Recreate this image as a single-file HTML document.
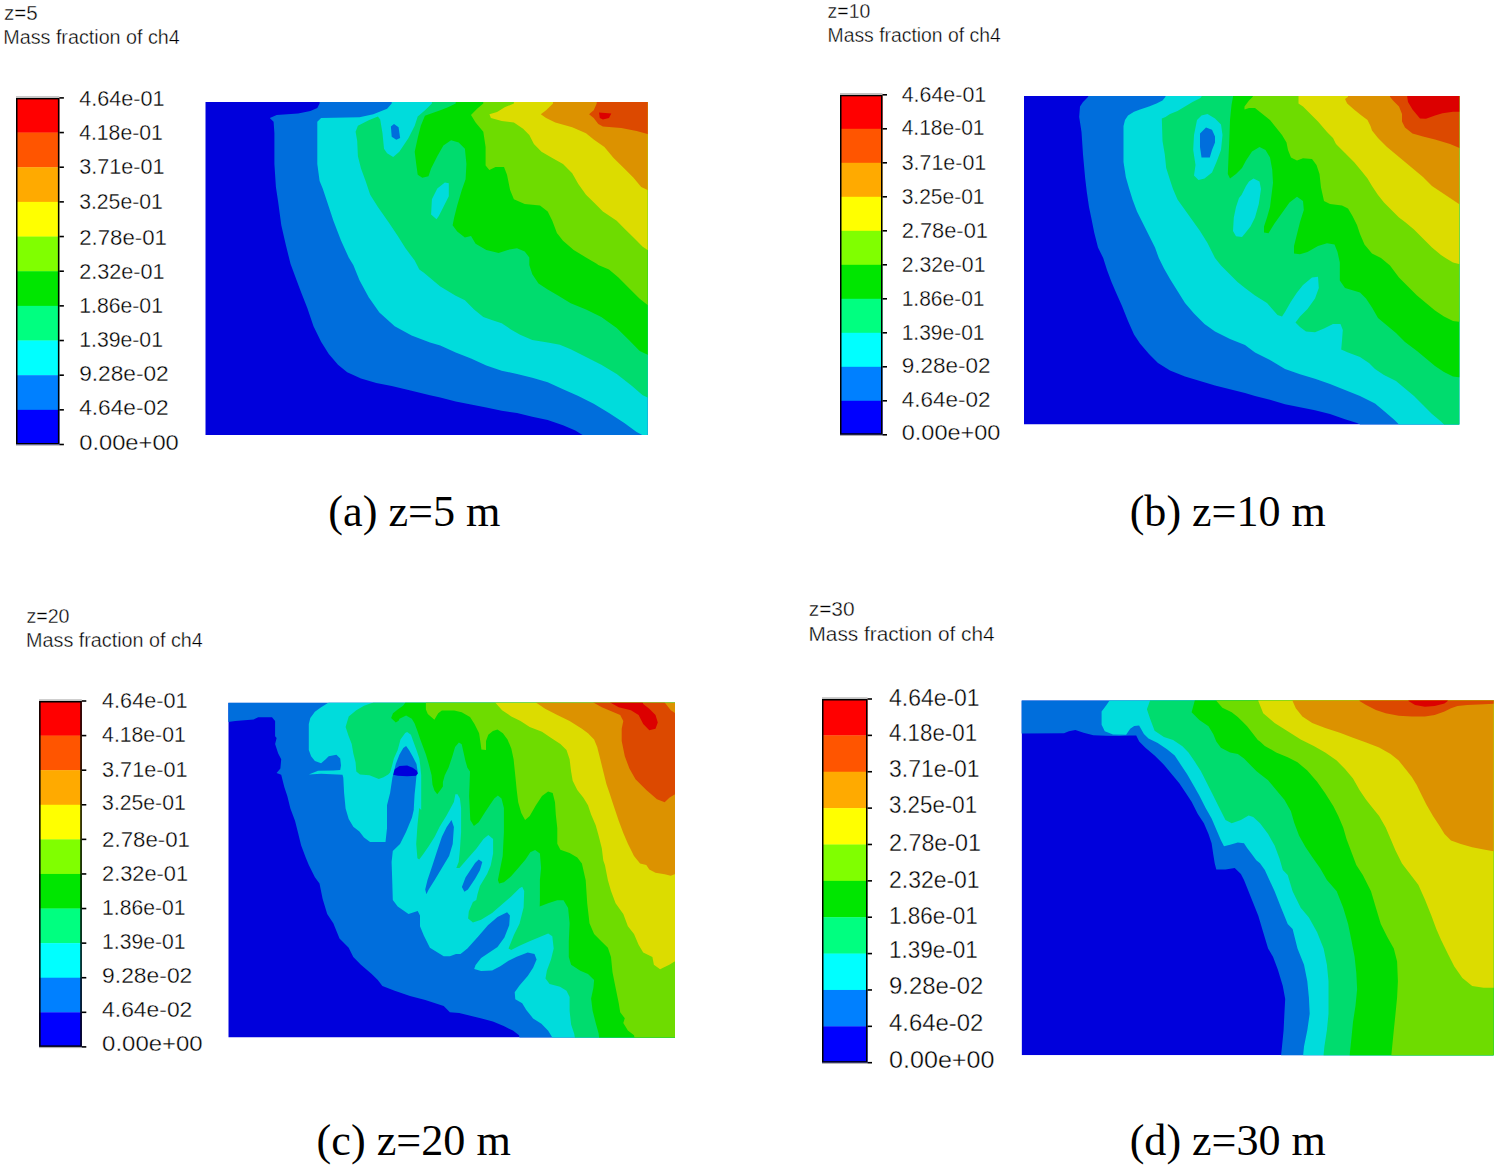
<!DOCTYPE html>
<html><head><meta charset="utf-8"><style>
html,body{margin:0;padding:0;background:#fff;width:1500px;height:1168px;overflow:hidden}
svg{display:block}
</style></head><body>
<svg width="1500" height="1168" viewBox="0 0 1500 1168">
<text x="4.10" y="20.00" font-family='"Liberation Sans", sans-serif' font-size="19.5" textLength="33.70" lengthAdjust="spacingAndGlyphs" fill="#000" stroke="#fff" stroke-width="0.35">z=5</text>
<text x="3.30" y="44.00" font-family='"Liberation Sans", sans-serif' font-size="20" textLength="176.47" lengthAdjust="spacingAndGlyphs" fill="#000" stroke="#fff" stroke-width="0.35">Mass fraction of ch4</text>
<rect x="16" y="97.90" width="43.4" height="34.96" fill="#ff0000"/>
<rect x="16" y="132.56" width="43.4" height="34.96" fill="#ff5500"/>
<rect x="16" y="167.22" width="43.4" height="34.96" fill="#ffaa00"/>
<rect x="16" y="201.88" width="43.4" height="34.96" fill="#ffff00"/>
<rect x="16" y="236.54" width="43.4" height="34.96" fill="#80ff00"/>
<rect x="16" y="271.20" width="43.4" height="34.96" fill="#00e600"/>
<rect x="16" y="305.86" width="43.4" height="34.96" fill="#00ff80"/>
<rect x="16" y="340.52" width="43.4" height="34.96" fill="#00ffff"/>
<rect x="16" y="375.18" width="43.4" height="34.96" fill="#0080ff"/>
<rect x="16" y="409.84" width="43.4" height="34.96" fill="#0000ff"/>
<rect x="16.75" y="98.65" width="41.9" height="345.1" fill="none" stroke="#000" stroke-width="1.5"/>
<rect x="16" y="96.10000000000001" width="43.4" height="1.8" fill="#c4c4c4"/>
<rect x="16" y="444.5" width="43.4" height="1.2" fill="#b0b0b0"/>
<line x1="59.4" y1="97.90" x2="63.9" y2="97.90" stroke="#000" stroke-width="1.6"/>
<line x1="59.4" y1="132.56" x2="63.9" y2="132.56" stroke="#000" stroke-width="1.6"/>
<line x1="59.4" y1="167.22" x2="63.9" y2="167.22" stroke="#000" stroke-width="1.6"/>
<line x1="59.4" y1="201.88" x2="63.9" y2="201.88" stroke="#000" stroke-width="1.6"/>
<line x1="59.4" y1="236.54" x2="63.9" y2="236.54" stroke="#000" stroke-width="1.6"/>
<line x1="59.4" y1="271.20" x2="63.9" y2="271.20" stroke="#000" stroke-width="1.6"/>
<line x1="59.4" y1="305.86" x2="63.9" y2="305.86" stroke="#000" stroke-width="1.6"/>
<line x1="59.4" y1="340.52" x2="63.9" y2="340.52" stroke="#000" stroke-width="1.6"/>
<line x1="59.4" y1="375.18" x2="63.9" y2="375.18" stroke="#000" stroke-width="1.6"/>
<line x1="59.4" y1="409.84" x2="63.9" y2="409.84" stroke="#000" stroke-width="1.6"/>
<line x1="59.4" y1="444.50" x2="63.9" y2="444.50" stroke="#000" stroke-width="1.6"/>
<text x="79.20" y="106.00" font-family='"Liberation Sans", sans-serif' font-size="22.8" textLength="85.25" lengthAdjust="spacingAndGlyphs" fill="#000" stroke="#fff" stroke-width="0.35">4.64e-01</text>
<text x="79.20" y="140.20" font-family='"Liberation Sans", sans-serif' font-size="22.8" textLength="83.56" lengthAdjust="spacingAndGlyphs" fill="#000" stroke="#fff" stroke-width="0.35">4.18e-01</text>
<text x="79.20" y="174.30" font-family='"Liberation Sans", sans-serif' font-size="22.8" textLength="85.25" lengthAdjust="spacingAndGlyphs" fill="#000" stroke="#fff" stroke-width="0.35">3.71e-01</text>
<text x="79.20" y="208.50" font-family='"Liberation Sans", sans-serif' font-size="22.8" textLength="83.56" lengthAdjust="spacingAndGlyphs" fill="#000" stroke="#fff" stroke-width="0.35">3.25e-01</text>
<text x="79.20" y="245.20" font-family='"Liberation Sans", sans-serif' font-size="22.8" textLength="87.75" lengthAdjust="spacingAndGlyphs" fill="#000" stroke="#fff" stroke-width="0.35">2.78e-01</text>
<text x="79.20" y="278.70" font-family='"Liberation Sans", sans-serif' font-size="22.8" textLength="85.35" lengthAdjust="spacingAndGlyphs" fill="#000" stroke="#fff" stroke-width="0.35">2.32e-01</text>
<text x="79.20" y="313.10" font-family='"Liberation Sans", sans-serif' font-size="22.8" textLength="83.76" lengthAdjust="spacingAndGlyphs" fill="#000" stroke="#fff" stroke-width="0.35">1.86e-01</text>
<text x="79.20" y="346.50" font-family='"Liberation Sans", sans-serif' font-size="22.8" textLength="83.76" lengthAdjust="spacingAndGlyphs" fill="#000" stroke="#fff" stroke-width="0.35">1.39e-01</text>
<text x="79.20" y="380.50" font-family='"Liberation Sans", sans-serif' font-size="22.8" textLength="89.55" lengthAdjust="spacingAndGlyphs" fill="#000" stroke="#fff" stroke-width="0.35">9.28e-02</text>
<text x="79.20" y="415.30" font-family='"Liberation Sans", sans-serif' font-size="22.8" textLength="89.55" lengthAdjust="spacingAndGlyphs" fill="#000" stroke="#fff" stroke-width="0.35">4.64e-02</text>
<text x="79.20" y="450.00" font-family='"Liberation Sans", sans-serif' font-size="22.8" textLength="99.57" lengthAdjust="spacingAndGlyphs" fill="#000" stroke="#fff" stroke-width="0.35">0.00e+00</text>
<text x="328.30" y="526.00" font-family='"Liberation Serif", serif' font-size="43.5" textLength="172.22" lengthAdjust="spacingAndGlyphs" fill="#000">(a) z=5 m</text>
<svg x="205.3" y="102" width="442.40000000000003" height="333" viewBox="0 0 442.40000000000003 333" preserveAspectRatio="none" overflow="hidden">
<rect x="0" y="0" width="442.40000000000003" height="333" fill="#0000dc"/>
<path d="M114.3,-3.9 L114.3,1.4 L112.0,6.0 L105.1,9.1 L92.8,11.4 L71.4,12.9 L64.5,16.0 L68.3,19.8 L69.1,31.3 L69.1,62.0 L70.6,85.0 L72.9,100.3 L76.0,123.3 L80.6,143.3 L85.2,161.7 L91.3,178.3 L95.9,190.6 L102.0,205.9 L108.2,224.3 L115.8,239.7 L123.5,251.9 L132.7,262.7 L141.9,270.3 L155.7,276.5 L171.0,281.1 L186.4,284.1 L206.3,288.7 L224.7,293.3 L235.0,295.6 L250.4,299.5 L265.7,302.5 L281.0,305.6 L296.4,308.7 L311.7,311.0 L327.0,314.8 L342.4,317.9 L357.7,323.2 L370.0,328.6 L377.6,333.2 L379.2,340.9 L379.2,341.0 L450.4,341.0 L450.4,-8.0 L114.3,-8.0Z" fill="#006edc"/>
<path d="M186.4,-3.9 L186.4,1.4 L181.8,6.8 L168.0,12.2 L154.2,15.2 L115.8,16.0 L112.0,19.8 L112.0,62.0 L114.3,78.9 L117.4,86.5 L122.0,100.3 L128.1,118.7 L135.8,138.7 L143.4,155.5 L148.0,163.0 L154.2,178.3 L163.4,195.2 L174.1,210.5 L189.4,224.3 L206.3,233.5 L224.7,240.4 L235.0,243.5 L250.4,250.4 L265.7,256.5 L281.0,263.4 L296.4,268.8 L311.7,271.9 L327.0,275.7 L342.4,280.3 L357.7,287.2 L373.0,294.1 L388.4,301.8 L403.7,311.0 L419.0,320.9 L431.3,330.1 L437.4,333.2 L438.2,340.9 L438.2,341.0 L450.4,341.0 L450.4,-8.0 L186.4,-8.0Z" fill="#00dcdc"/>
<path d="M188.7,22.1 L193.3,25.2 L194.8,35.9 L191.0,37.8 L186.4,34.7 L185.6,24.4Z" fill="#006edc"/>
<path d="M226.6,-3.9 L226.6,1.4 L219.7,8.3 L212.4,14.5 L209.4,23.7 L203.2,35.9 L194.0,49.7 L187.9,55.1 L181.8,51.3 L178.7,46.7 L177.2,31.3 L174.9,17.5 L172.6,14.5 L163.4,18.3 L152.6,23.7 L150.3,29.8 L151.9,39.0 L152.6,54.3 L155.7,66.6 L160.3,78.9 L164.9,92.7 L172.6,104.9 L183.3,120.3 L192.5,134.1 L200.2,146.3 L209.4,158.6 L214.0,167.6 L218.6,170.7 L235.0,184.5 L250.4,193.7 L259.6,198.3 L268.8,207.5 L278.0,215.1 L287.2,218.2 L296.4,221.3 L305.6,227.4 L314.8,232.8 L327.0,238.1 L342.4,240.4 L354.6,242.7 L365.4,247.3 L380.7,255.0 L396.0,262.7 L411.4,271.9 L426.7,284.1 L437.4,293.3 L442.3,295.6 L449.7,297.9 L450.4,297.9 L450.4,-8.0 L226.6,-8.0Z" fill="#00dc6e"/>
<path d="M231.2,117.2 L225.8,112.6 L226.6,97.3 L232.0,86.5 L239.6,80.4 L243.5,81.2 L243.5,94.2 L238.1,104.9 L233.5,114.1Z" fill="#00dcdc"/>
<path d="M250.4,-3.9 L250.4,1.4 L242.7,5.3 L235.0,8.3 L225.8,11.4 L219.6,13.7 L215.5,23.7 L212.4,35.9 L209.4,49.7 L210.9,62.0 L212.4,72.7 L217.0,75.8 L223.2,74.3 L225.8,66.6 L232.0,54.3 L238.1,43.6 L245.8,38.2 L253.4,40.5 L259.6,46.7 L261.1,62.0 L260.3,77.3 L256.5,88.1 L251.9,103.4 L248.8,115.7 L247.3,123.3 L251.9,129.5 L259.6,135.6 L265.7,134.1 L270.3,141.7 L281.0,147.9 L293.3,150.9 L302.5,147.9 L311.7,146.3 L319.4,149.4 L324.0,155.5 L324.0,163.0 L327.0,172.2 L333.2,181.4 L342.4,187.5 L353.1,193.7 L365.4,201.3 L380.7,207.5 L396.0,215.1 L411.4,225.9 L423.6,238.1 L434.4,248.9 L442.3,252.7 L449.7,255.0 L450.4,255.0 L450.4,-8.0 L250.4,-8.0Z" fill="#00dc00"/>
<path d="M278.0,-3.9 L278.0,1.4 L271.8,6.8 L265.7,12.9 L270.3,20.6 L278.0,29.8 L280.3,45.1 L280.3,63.5 L284.1,68.1 L290.2,65.1 L298.7,65.1 L301.7,72.7 L304.8,88.1 L308.6,97.3 L319.4,101.9 L334.7,103.4 L342.4,109.5 L347.0,118.7 L351.6,131.0 L357.7,138.7 L368.4,147.9 L380.7,155.5 L391.4,161.7 L393.0,163.0 L403.7,167.6 L412.9,175.3 L423.6,186.0 L434.4,196.7 L442.3,202.9 L449.7,204.4 L450.4,204.4 L450.4,-8.0 L278.0,-8.0Z" fill="#6edc00"/>
<path d="M308.6,-3.9 L308.6,1.4 L299.4,5.3 L291.8,9.9 L284.1,12.2 L285.6,16.0 L296.4,19.1 L308.6,20.6 L317.8,26.7 L324.0,32.9 L328.6,42.1 L336.2,49.7 L347.0,55.9 L357.7,62.0 L366.9,71.2 L373.0,81.9 L380.7,92.7 L388.4,100.3 L397.6,109.5 L411.4,118.7 L419.0,126.4 L428.2,135.6 L437.4,144.8 L442.3,147.9 L449.7,152.5 L450.4,152.5 L450.4,-8.0 L308.6,-8.0Z" fill="#dcdc00"/>
<path d="M347.7,-3.9 L347.7,1.4 L340.8,8.3 L335.5,12.2 L340.8,16.0 L350.0,20.6 L366.9,25.2 L380.7,31.3 L388.4,37.5 L399.1,45.1 L408.3,55.9 L419.0,66.6 L428.2,75.8 L435.9,85.0 L442.3,88.1 L449.7,91.1 L450.4,91.1 L450.4,-8.0 L347.7,-8.0Z" fill="#dc9200"/>
<path d="M391.4,-3.9 L391.4,1.4 L388.4,8.3 L383.8,12.2 L388.4,16.0 L393.0,22.1 L397.6,24.4 L416.0,26.0 L431.3,29.0 L442.3,32.1 L449.7,32.9 L450.4,32.9 L450.4,-8.0 L391.4,-8.0Z" fill="#dc4900"/>
<path d="M393.7,10.6 L406.0,11.4 L403.7,16.0 L397.6,17.5 L394.5,16.0Z" fill="#dc0000"/>
</svg>
<text x="827.60" y="18.30" font-family='"Liberation Sans", sans-serif' font-size="19.5" textLength="42.63" lengthAdjust="spacingAndGlyphs" fill="#000" stroke="#fff" stroke-width="0.35">z=10</text>
<text x="827.50" y="41.80" font-family='"Liberation Sans", sans-serif' font-size="20" textLength="173.27" lengthAdjust="spacingAndGlyphs" fill="#000" stroke="#fff" stroke-width="0.35">Mass fraction of ch4</text>
<rect x="840" y="94.80" width="42.5" height="34.30" fill="#ff0000"/>
<rect x="840" y="128.80" width="42.5" height="34.30" fill="#ff5500"/>
<rect x="840" y="162.80" width="42.5" height="34.30" fill="#ffaa00"/>
<rect x="840" y="196.80" width="42.5" height="34.30" fill="#ffff00"/>
<rect x="840" y="230.80" width="42.5" height="34.30" fill="#80ff00"/>
<rect x="840" y="264.80" width="42.5" height="34.30" fill="#00e600"/>
<rect x="840" y="298.80" width="42.5" height="34.30" fill="#00ff80"/>
<rect x="840" y="332.80" width="42.5" height="34.30" fill="#00ffff"/>
<rect x="840" y="366.80" width="42.5" height="34.30" fill="#0080ff"/>
<rect x="840" y="400.80" width="42.5" height="34.30" fill="#0000ff"/>
<rect x="840.75" y="95.55" width="41.0" height="338.5" fill="none" stroke="#000" stroke-width="1.5"/>
<rect x="840" y="93.0" width="42.5" height="1.8" fill="#c4c4c4"/>
<rect x="840" y="434.8" width="42.5" height="1.2" fill="#b0b0b0"/>
<line x1="882.5" y1="94.80" x2="887.0" y2="94.80" stroke="#000" stroke-width="1.6"/>
<line x1="882.5" y1="128.80" x2="887.0" y2="128.80" stroke="#000" stroke-width="1.6"/>
<line x1="882.5" y1="162.80" x2="887.0" y2="162.80" stroke="#000" stroke-width="1.6"/>
<line x1="882.5" y1="196.80" x2="887.0" y2="196.80" stroke="#000" stroke-width="1.6"/>
<line x1="882.5" y1="230.80" x2="887.0" y2="230.80" stroke="#000" stroke-width="1.6"/>
<line x1="882.5" y1="264.80" x2="887.0" y2="264.80" stroke="#000" stroke-width="1.6"/>
<line x1="882.5" y1="298.80" x2="887.0" y2="298.80" stroke="#000" stroke-width="1.6"/>
<line x1="882.5" y1="332.80" x2="887.0" y2="332.80" stroke="#000" stroke-width="1.6"/>
<line x1="882.5" y1="366.80" x2="887.0" y2="366.80" stroke="#000" stroke-width="1.6"/>
<line x1="882.5" y1="400.80" x2="887.0" y2="400.80" stroke="#000" stroke-width="1.6"/>
<line x1="882.5" y1="434.80" x2="887.0" y2="434.80" stroke="#000" stroke-width="1.6"/>
<text x="901.70" y="101.70" font-family='"Liberation Sans", sans-serif' font-size="21.6" textLength="84.55" lengthAdjust="spacingAndGlyphs" fill="#000" stroke="#fff" stroke-width="0.35">4.64e-01</text>
<text x="901.70" y="135.40" font-family='"Liberation Sans", sans-serif' font-size="21.6" textLength="82.86" lengthAdjust="spacingAndGlyphs" fill="#000" stroke="#fff" stroke-width="0.35">4.18e-01</text>
<text x="901.70" y="169.80" font-family='"Liberation Sans", sans-serif' font-size="21.6" textLength="84.55" lengthAdjust="spacingAndGlyphs" fill="#000" stroke="#fff" stroke-width="0.35">3.71e-01</text>
<text x="901.70" y="203.50" font-family='"Liberation Sans", sans-serif' font-size="21.6" textLength="82.86" lengthAdjust="spacingAndGlyphs" fill="#000" stroke="#fff" stroke-width="0.35">3.25e-01</text>
<text x="901.70" y="238.30" font-family='"Liberation Sans", sans-serif' font-size="21.6" textLength="86.25" lengthAdjust="spacingAndGlyphs" fill="#000" stroke="#fff" stroke-width="0.35">2.78e-01</text>
<text x="901.70" y="272.40" font-family='"Liberation Sans", sans-serif' font-size="21.6" textLength="83.76" lengthAdjust="spacingAndGlyphs" fill="#000" stroke="#fff" stroke-width="0.35">2.32e-01</text>
<text x="901.70" y="305.90" font-family='"Liberation Sans", sans-serif' font-size="21.6" textLength="82.86" lengthAdjust="spacingAndGlyphs" fill="#000" stroke="#fff" stroke-width="0.35">1.86e-01</text>
<text x="901.70" y="339.80" font-family='"Liberation Sans", sans-serif' font-size="21.6" textLength="82.86" lengthAdjust="spacingAndGlyphs" fill="#000" stroke="#fff" stroke-width="0.35">1.39e-01</text>
<text x="901.70" y="372.70" font-family='"Liberation Sans", sans-serif' font-size="21.6" textLength="88.75" lengthAdjust="spacingAndGlyphs" fill="#000" stroke="#fff" stroke-width="0.35">9.28e-02</text>
<text x="901.70" y="406.60" font-family='"Liberation Sans", sans-serif' font-size="21.6" textLength="88.75" lengthAdjust="spacingAndGlyphs" fill="#000" stroke="#fff" stroke-width="0.35">4.64e-02</text>
<text x="901.70" y="440.30" font-family='"Liberation Sans", sans-serif' font-size="21.6" textLength="98.77" lengthAdjust="spacingAndGlyphs" fill="#000" stroke="#fff" stroke-width="0.35">0.00e+00</text>
<text x="1129.70" y="525.80" font-family='"Liberation Serif", serif' font-size="43.5" textLength="196.08" lengthAdjust="spacingAndGlyphs" fill="#000">(b) z=10 m</text>
<svg x="1024" y="96" width="435.29999999999995" height="328.5" viewBox="0 0 435.29999999999995 328.5" preserveAspectRatio="none" overflow="hidden">
<rect x="0" y="0" width="435.29999999999995" height="328.5" fill="#0000dc"/>
<path d="M64.2,-3.0 L64.2,0.8 L62.0,3.0 L59.0,6.0 L56.0,10.5 L55.2,21.0 L57.5,36.0 L59.0,58.5 L61.2,82.5 L62.8,96.0 L65.0,111.0 L67.2,121.5 L70.2,136.5 L74.0,151.5 L79.2,162.0 L83.0,174.0 L87.5,186.0 L92.0,196.5 L98.0,210.0 L104.0,225.0 L110.0,238.5 L116.0,247.5 L125.0,258.0 L134.0,267.0 L146.0,274.5 L161.0,280.5 L176.0,285.0 L191.0,289.5 L206.0,293.2 L221.0,297.0 L231.0,300.0 L246.0,303.8 L261.0,308.2 L276.0,311.2 L291.0,314.2 L306.0,318.0 L321.0,323.2 L333.0,327.0 L336.0,328.5 L336.8,336.0 L336.8,336.5 L443.3,336.5 L443.3,-8.0 L64.2,-8.0Z" fill="#006edc"/>
<path d="M141.5,-3.0 L141.5,0.8 L138.5,4.5 L132.5,7.5 L125.0,10.5 L116.0,13.5 L110.0,15.8 L104.0,19.5 L101.0,24.0 L99.5,30.0 L99.5,66.0 L101.8,81.0 L104.8,91.5 L108.5,103.5 L113.0,115.5 L117.5,124.5 L123.5,136.5 L131.0,151.5 L134.8,162.0 L140.0,172.5 L146.0,183.0 L153.5,195.0 L161.0,207.0 L170.0,217.5 L180.5,228.0 L191.0,235.5 L206.0,243.0 L221.0,249.0 L231.0,256.5 L246.0,264.0 L261.0,273.0 L276.0,278.2 L291.0,282.8 L306.0,288.0 L321.0,294.0 L336.0,300.0 L351.0,307.5 L360.0,315.0 L370.5,324.0 L375.0,328.5 L375.8,336.0 L375.8,336.5 L443.3,336.5 L443.3,-8.0 L141.5,-8.0Z" fill="#00dcdc"/>
<path d="M177.5,-3.0 L177.5,0.8 L176.0,2.2 L168.5,6.0 L161.0,10.5 L153.5,15.0 L146.0,18.0 L141.5,21.0 L137.8,22.5 L138.5,45.0 L140.8,58.5 L142.2,72.0 L146.0,84.0 L149.0,93.0 L153.5,103.5 L161.0,114.0 L168.5,124.5 L176.0,135.0 L183.5,147.0 L188.0,156.0 L191.0,162.0 L197.0,169.5 L206.0,178.5 L213.5,186.0 L221.0,192.0 L231.0,199.5 L243.0,207.0 L253.5,219.0 L258.0,220.5 L261.0,216.0 L267.0,205.5 L273.0,196.5 L279.0,189.0 L288.0,181.5 L294.0,180.8 L294.8,192.0 L291.0,202.5 L283.5,213.0 L276.0,220.5 L271.5,226.5 L276.0,231.0 L282.0,235.5 L291.0,236.2 L300.0,232.5 L309.0,228.0 L316.5,228.0 L318.8,234.0 L318.0,244.5 L317.2,253.5 L324.0,256.5 L336.0,261.0 L345.0,267.0 L351.0,273.0 L360.0,279.0 L372.0,285.0 L381.0,292.5 L390.0,300.0 L399.0,309.0 L408.0,318.0 L417.0,325.5 L420.0,328.5 L421.5,336.0 L421.5,336.5 L443.3,336.5 L443.3,-8.0 L177.5,-8.0Z" fill="#00dc6e"/>
<path d="M183.5,18.0 L191.0,22.5 L197.0,28.5 L198.5,39.0 L197.0,54.0 L192.5,66.0 L188.0,76.5 L180.5,82.5 L174.5,84.0 L170.0,79.5 L171.5,69.0 L169.2,54.0 L170.0,39.0 L173.0,24.0 L177.5,19.5Z" fill="#00dcdc"/>
<path d="M182.0,31.5 L188.0,33.8 L191.0,40.5 L191.0,46.5 L188.0,54.0 L185.8,61.5 L177.5,61.5 L176.0,51.0 L176.0,37.5Z" fill="#006edc"/>
<path d="M215.0,102.0 L212.0,111.0 L209.8,121.5 L209.0,135.0 L212.0,140.2 L218.0,141.0 L220.5,138.0 L226.5,130.5 L231.0,121.5 L234.8,108.0 L237.0,93.0 L235.5,85.5 L229.5,82.5 L225.0,85.5 L222.0,90.0 L217.5,99.0Z" fill="#00dcdc"/>
<path d="M209.0,-3.0 L209.0,0.8 L207.5,9.0 L206.0,24.0 L205.2,46.5 L204.5,61.5 L203.8,78.0 L206.0,82.5 L212.0,78.0 L218.0,72.0 L222.0,64.5 L228.0,55.5 L235.5,51.0 L241.5,54.0 L246.0,61.5 L248.2,73.5 L249.0,87.0 L247.5,99.0 L246.0,111.0 L243.0,121.5 L240.0,130.5 L240.0,136.5 L244.5,137.2 L250.5,127.5 L258.0,117.0 L265.5,106.5 L273.0,100.8 L279.0,105.0 L279.8,114.0 L276.0,126.0 L273.0,138.0 L270.0,150.0 L270.0,157.5 L276.0,158.2 L283.5,156.0 L294.0,150.0 L303.0,147.3 L310.5,148.5 L313.5,156.0 L315.8,166.5 L315.8,184.5 L321.0,192.0 L336.0,196.5 L342.0,202.5 L348.0,211.5 L354.0,222.0 L363.0,229.5 L372.0,237.0 L381.0,246.0 L393.0,255.0 L402.0,262.5 L411.0,270.0 L420.0,276.0 L429.0,280.5 L435.0,281.2 L441.0,281.2 L443.3,281.2 L443.3,-8.0 L209.0,-8.0Z" fill="#00dc00"/>
<path d="M228.8,-3.0 L228.8,0.8 L225.0,4.5 L220.5,10.5 L220.5,13.5 L225.0,12.0 L231.0,12.0 L238.5,18.0 L246.0,24.0 L252.0,31.5 L258.0,39.0 L262.5,46.5 L264.0,54.0 L267.0,61.5 L273.0,64.5 L279.0,62.2 L288.0,63.0 L292.5,69.0 L295.5,78.0 L297.0,91.5 L300.0,105.0 L306.0,108.0 L318.0,109.5 L324.0,112.5 L328.5,120.0 L333.0,129.0 L336.0,138.0 L340.5,148.5 L348.0,157.5 L357.0,162.0 L366.0,169.5 L375.0,181.5 L384.0,190.5 L393.0,199.5 L402.0,207.0 L411.0,214.5 L420.0,220.5 L429.0,225.0 L435.0,225.8 L441.0,225.8 L443.3,225.8 L443.3,-8.0 L228.8,-8.0Z" fill="#6edc00"/>
<path d="M274.5,-3.0 L274.5,0.8 L274.5,7.5 L279.0,10.5 L286.5,18.0 L294.0,25.5 L303.0,36.0 L309.0,42.0 L312.0,48.0 L321.0,57.0 L330.0,66.0 L337.5,75.0 L343.5,82.5 L348.0,90.0 L354.0,99.0 L360.0,106.5 L366.0,112.5 L375.0,121.5 L381.0,126.0 L390.0,133.5 L399.0,142.5 L408.0,151.5 L417.0,159.0 L421.5,162.0 L429.0,166.5 L435.0,168.0 L441.0,168.0 L443.3,168.0 L443.3,-8.0 L274.5,-8.0Z" fill="#dcdc00"/>
<path d="M324.0,-3.0 L324.0,0.8 L321.0,3.0 L323.2,7.5 L330.0,13.5 L337.5,19.5 L343.5,24.0 L346.5,30.0 L348.0,34.5 L354.0,42.0 L363.0,51.0 L372.0,58.5 L381.0,66.0 L390.0,73.5 L399.0,81.0 L408.0,90.0 L417.0,96.0 L426.0,102.0 L435.0,108.0 L441.0,109.5 L443.3,109.5 L443.3,-8.0 L324.0,-8.0Z" fill="#dc9200"/>
<path d="M366.0,-3.0 L366.0,0.8 L369.0,4.5 L375.0,10.5 L378.0,18.0 L378.0,25.5 L381.0,31.5 L388.5,37.5 L399.0,40.5 L411.0,43.5 L426.0,48.0 L435.0,51.8 L441.0,52.5 L443.3,52.5 L443.3,-8.0 L366.0,-8.0Z" fill="#dc4900"/>
<path d="M383.2,-3.0 L383.2,0.8 L384.0,6.0 L388.5,13.5 L396.0,22.5 L402.0,22.8 L411.0,19.5 L418.5,17.2 L429.0,15.8 L441.0,15.8 L443.3,15.8 L443.3,-8.0 L383.2,-8.0Z" fill="#dc0000"/>
</svg>
<text x="26.40" y="622.70" font-family='"Liberation Sans", sans-serif' font-size="19.5" textLength="43.13" lengthAdjust="spacingAndGlyphs" fill="#000" stroke="#fff" stroke-width="0.35">z=20</text>
<text x="26.10" y="646.60" font-family='"Liberation Sans", sans-serif' font-size="20" textLength="176.67" lengthAdjust="spacingAndGlyphs" fill="#000" stroke="#fff" stroke-width="0.35">Mass fraction of ch4</text>
<rect x="39.1" y="701.00" width="42.699999999999996" height="34.89" fill="#ff0000"/>
<rect x="39.1" y="735.59" width="42.699999999999996" height="34.89" fill="#ff5500"/>
<rect x="39.1" y="770.18" width="42.699999999999996" height="34.89" fill="#ffaa00"/>
<rect x="39.1" y="804.77" width="42.699999999999996" height="34.89" fill="#ffff00"/>
<rect x="39.1" y="839.36" width="42.699999999999996" height="34.89" fill="#80ff00"/>
<rect x="39.1" y="873.95" width="42.699999999999996" height="34.89" fill="#00e600"/>
<rect x="39.1" y="908.54" width="42.699999999999996" height="34.89" fill="#00ff80"/>
<rect x="39.1" y="943.13" width="42.699999999999996" height="34.89" fill="#00ffff"/>
<rect x="39.1" y="977.72" width="42.699999999999996" height="34.89" fill="#0080ff"/>
<rect x="39.1" y="1012.31" width="42.699999999999996" height="34.89" fill="#0000ff"/>
<rect x="39.85" y="701.75" width="41.199999999999996" height="344.4000000000001" fill="none" stroke="#000" stroke-width="1.5"/>
<rect x="39.1" y="699.2" width="42.699999999999996" height="1.8" fill="#c4c4c4"/>
<rect x="39.1" y="1046.9" width="42.699999999999996" height="1.2" fill="#b0b0b0"/>
<line x1="81.8" y1="701.00" x2="86.3" y2="701.00" stroke="#000" stroke-width="1.6"/>
<line x1="81.8" y1="735.59" x2="86.3" y2="735.59" stroke="#000" stroke-width="1.6"/>
<line x1="81.8" y1="770.18" x2="86.3" y2="770.18" stroke="#000" stroke-width="1.6"/>
<line x1="81.8" y1="804.77" x2="86.3" y2="804.77" stroke="#000" stroke-width="1.6"/>
<line x1="81.8" y1="839.36" x2="86.3" y2="839.36" stroke="#000" stroke-width="1.6"/>
<line x1="81.8" y1="873.95" x2="86.3" y2="873.95" stroke="#000" stroke-width="1.6"/>
<line x1="81.8" y1="908.54" x2="86.3" y2="908.54" stroke="#000" stroke-width="1.6"/>
<line x1="81.8" y1="943.13" x2="86.3" y2="943.13" stroke="#000" stroke-width="1.6"/>
<line x1="81.8" y1="977.72" x2="86.3" y2="977.72" stroke="#000" stroke-width="1.6"/>
<line x1="81.8" y1="1012.31" x2="86.3" y2="1012.31" stroke="#000" stroke-width="1.6"/>
<line x1="81.8" y1="1046.90" x2="86.3" y2="1046.90" stroke="#000" stroke-width="1.6"/>
<text x="102.10" y="707.50" font-family='"Liberation Sans", sans-serif' font-size="22.6" textLength="85.35" lengthAdjust="spacingAndGlyphs" fill="#000" stroke="#fff" stroke-width="0.35">4.64e-01</text>
<text x="102.10" y="741.80" font-family='"Liberation Sans", sans-serif' font-size="22.6" textLength="83.66" lengthAdjust="spacingAndGlyphs" fill="#000" stroke="#fff" stroke-width="0.35">4.18e-01</text>
<text x="102.10" y="776.50" font-family='"Liberation Sans", sans-serif' font-size="22.6" textLength="85.35" lengthAdjust="spacingAndGlyphs" fill="#000" stroke="#fff" stroke-width="0.35">3.71e-01</text>
<text x="102.10" y="810.20" font-family='"Liberation Sans", sans-serif' font-size="22.6" textLength="83.66" lengthAdjust="spacingAndGlyphs" fill="#000" stroke="#fff" stroke-width="0.35">3.25e-01</text>
<text x="102.10" y="846.60" font-family='"Liberation Sans", sans-serif' font-size="22.6" textLength="87.85" lengthAdjust="spacingAndGlyphs" fill="#000" stroke="#fff" stroke-width="0.35">2.78e-01</text>
<text x="102.10" y="880.60" font-family='"Liberation Sans", sans-serif' font-size="22.6" textLength="85.95" lengthAdjust="spacingAndGlyphs" fill="#000" stroke="#fff" stroke-width="0.35">2.32e-01</text>
<text x="102.10" y="915.20" font-family='"Liberation Sans", sans-serif' font-size="22.6" textLength="83.36" lengthAdjust="spacingAndGlyphs" fill="#000" stroke="#fff" stroke-width="0.35">1.86e-01</text>
<text x="102.10" y="948.80" font-family='"Liberation Sans", sans-serif' font-size="22.6" textLength="83.36" lengthAdjust="spacingAndGlyphs" fill="#000" stroke="#fff" stroke-width="0.35">1.39e-01</text>
<text x="102.10" y="982.50" font-family='"Liberation Sans", sans-serif' font-size="22.6" textLength="90.25" lengthAdjust="spacingAndGlyphs" fill="#000" stroke="#fff" stroke-width="0.35">9.28e-02</text>
<text x="102.10" y="1017.30" font-family='"Liberation Sans", sans-serif' font-size="22.6" textLength="90.25" lengthAdjust="spacingAndGlyphs" fill="#000" stroke="#fff" stroke-width="0.35">4.64e-02</text>
<text x="102.10" y="1051.10" font-family='"Liberation Sans", sans-serif' font-size="22.6" textLength="100.57" lengthAdjust="spacingAndGlyphs" fill="#000" stroke="#fff" stroke-width="0.35">0.00e+00</text>
<text x="316.60" y="1154.60" font-family='"Liberation Serif", serif' font-size="43.5" textLength="194.22" lengthAdjust="spacingAndGlyphs" fill="#000">(c) z=20 m</text>
<svg x="228.3" y="702.7" width="446.7" height="334.79999999999995" viewBox="0 0 446.7 334.79999999999995" preserveAspectRatio="none" overflow="hidden">
<rect x="0" y="0" width="446.7" height="334.79999999999995" fill="#0000dc"/>
<path d="M-2.3,19.5 L6.9,18.3 L25.3,16.8 L29.9,14.5 L43.7,14.5 L46.8,18.3 L46.8,33.6 L48.3,35.2 L46.8,41.3 L49.8,50.5 L52.9,56.6 L52.1,65.8 L48.3,70.4 L52.9,72.0 L56.0,84.2 L59.0,93.4 L62.1,105.7 L66.7,118.0 L69.8,130.2 L72.8,142.5 L77.4,154.8 L80.5,162.3 L86.6,174.6 L91.2,180.7 L94.3,196.0 L98.9,211.4 L105.0,220.6 L111.2,235.9 L120.4,245.1 L125.0,254.3 L132.6,262.0 L143.4,271.2 L149.5,277.3 L154.1,283.4 L166.4,288.0 L181.7,293.4 L197.0,297.2 L215.4,303.4 L221.6,309.5 L230.9,310.3 L240.1,312.6 L252.4,315.6 L264.6,318.7 L275.4,323.3 L284.6,327.9 L290.7,332.5 L292.2,340.2 L292.2,342.8 L454.7,342.8 L454.7,-8.0 L-8.0,-8.0 L-8.0,19.5Z" fill="#006edc"/>
<path d="M161.8,70.8 L165.6,67.0 L171.2,63.2 L178.8,62.8 L184.4,65.1 L188.2,67.9 L190.1,70.8 L188.2,73.1 L178.8,73.6 L169.4,73.1 L163.7,71.7Z" fill="#0000dc"/>
<path d="M100.4,-1.6 L100.4,-0.1 L92.8,4.5 L86.6,9.1 L82.0,15.2 L80.5,21.4 L80.5,47.4 L82.8,53.6 L86.6,58.2 L92.8,60.5 L97.4,56.6 L100.4,53.6 L108.1,52.0 L111.9,55.9 L112.7,62.8 L111.9,67.4 L105.0,67.7 L89.7,68.0 L80.5,71.7 L92.8,71.0 L114.2,72.0 L115.0,75.0 L115.8,90.4 L117.3,105.7 L120.4,116.4 L125.0,124.1 L131.1,128.7 L135.7,134.8 L141.8,139.4 L157.2,139.4 L158.7,125.6 L158.7,102.6 L161.8,90.4 L164.1,75.0 L164.7,72.6 L167.5,61.3 L171.2,51.9 L175.0,45.3 L177.8,43.4 L180.7,47.2 L184.4,53.8 L188.2,61.3 L189.6,70.8 L188.2,72.6 L187.3,82.1 L186.3,91.5 L185.4,107.3 L187.3,99.3 L183.7,114.8 L177.7,129.2 L171.7,141.2 L164.5,148.4 L163.3,159.2 L163.9,177.2 L164.5,197.3 L169.4,203.7 L180.2,211.4 L189.4,208.3 L191.7,212.9 L191.7,223.6 L195.5,232.8 L201.6,245.1 L209.3,249.7 L215.4,253.5 L221.6,253.5 L227.7,251.2 L232.2,251.3 L239.1,245.8 L250.1,233.5 L259.6,222.5 L269.2,214.3 L278.8,209.5 L281.6,212.9 L280.9,222.5 L276.1,234.8 L269.2,244.4 L261.0,249.9 L252.8,255.4 L247.3,262.2 L245.9,266.3 L252.8,268.4 L263.8,267.7 L272.0,263.6 L280.2,258.1 L288.4,254.0 L299.4,249.9 L306.2,251.3 L308.3,256.8 L304.8,265.0 L299.4,273.2 L291.2,282.8 L286.4,289.6 L287.0,296.5 L293.9,300.6 L298.0,307.4 L304.8,315.7 L313.1,321.1 L319.9,328.0 L324.0,334.8 L324.7,338.9 L324.7,342.8 L454.7,342.8 L454.7,-8.0 L100.4,-8.0Z" fill="#00dcdc"/>
<path d="M223.2,117.2 L225.6,124.4 L224.4,141.2 L220.8,153.2 L213.6,165.2 L206.4,177.2 L200.4,186.8 L198.1,191.6 L196.9,186.8 L199.2,177.2 L204.1,162.8 L208.8,148.4 L213.6,134.0 L218.4,124.4Z" fill="#006edc"/>
<path d="M250.4,156.8 L254.0,159.2 L251.6,167.6 L246.8,176.0 L239.6,186.8 L236.1,189.1 L233.6,184.3 L237.2,174.8 L242.0,167.6 L246.8,160.4Z" fill="#006edc"/>
<path d="M144.9,-1.6 L144.9,-0.1 L135.7,3.0 L128.0,7.6 L120.4,13.7 L117.3,24.4 L120.4,33.6 L123.4,41.3 L125.0,50.5 L127.3,59.7 L128.0,68.9 L131.7,71.7 L141.1,72.6 L150.5,76.4 L155.2,74.5 L159.9,71.7 L161.8,69.8 L163.7,63.2 L165.6,55.7 L169.4,47.2 L172.2,36.8 L176.9,30.3 L178.8,29.3 L182.6,32.1 L185.4,39.7 L188.2,47.2 L191.0,55.7 L192.0,63.2 L192.9,72.6 L192.9,91.5 L192.9,107.3 L190.9,105.3 L189.1,123.2 L187.9,141.2 L189.1,155.6 L190.9,156.8 L194.5,152.0 L200.4,143.6 L206.4,134.0 L211.2,124.4 L218.4,112.5 L225.6,99.3 L227.1,91.5 L229.2,91.5 L231.6,95.7 L232.8,105.3 L232.8,129.2 L231.6,147.2 L230.4,159.2 L228.0,165.2 L231.2,165.2 L239.6,155.6 L248.0,146.0 L255.2,136.4 L260.0,132.2 L264.8,136.4 L264.8,150.8 L262.4,162.8 L258.8,171.2 L251.6,183.2 L249.2,191.5 L248.0,197.3 L244.6,199.2 L240.5,208.8 L239.8,215.7 L244.6,219.8 L252.8,217.0 L263.8,210.2 L273.3,202.0 L282.9,193.7 L291.2,185.5 L293.9,184.1 L295.9,188.3 L295.3,204.7 L291.2,221.1 L285.7,232.1 L280.2,245.8 L282.9,247.2 L291.2,243.0 L300.7,238.9 L310.3,234.8 L319.9,230.7 L324.0,233.5 L325.4,245.8 L322.7,256.8 L318.6,267.7 L317.2,275.9 L321.3,281.4 L331.7,284.1 L338.2,288.0 L341.3,294.2 L341.3,308.0 L342.8,321.8 L345.9,331.0 L347.4,340.2 L347.4,342.8 L454.7,342.8 L454.7,-8.0 L144.9,-8.0Z" fill="#00dc6e"/>
<path d="M176.9,-1.8 L176.9,0.1 L175.0,2.9 L169.4,6.7 L164.7,10.5 L162.8,15.2 L167.5,19.9 L170.3,18.0 L171.2,16.1 L177.8,12.8 L183.5,16.1 L186.3,20.8 L189.1,28.4 L192.0,36.8 L194.8,44.4 L197.6,51.9 L200.4,61.3 L203.3,72.6 L204.2,82.1 L206.1,87.7 L208.9,91.5 L211.8,87.7 L214.6,83.9 L214.6,79.2 L216.5,72.6 L220.2,65.1 L224.0,53.8 L226.8,44.4 L230.6,39.7 L233.4,41.6 L235.3,50.0 L237.2,58.5 L239.1,65.1 L241.7,68.9 L240.8,93.3 L242.0,117.2 L245.6,123.2 L250.4,119.6 L256.4,110.0 L261.2,102.8 L266.0,95.7 L269.6,92.7 L273.2,95.7 L275.6,105.2 L275.6,129.2 L274.4,153.2 L272.0,165.2 L269.6,177.2 L270.8,180.8 L275.6,179.6 L282.8,173.6 L290.0,165.2 L297.2,156.8 L302.0,149.6 L306.8,147.2 L311.6,150.8 L312.8,165.2 L311.6,177.2 L311.6,197.3 L311.4,203.7 L319.8,200.6 L329.0,197.6 L335.2,197.6 L339.8,205.2 L341.3,220.6 L340.5,239.0 L340.5,254.3 L342.8,262.0 L352.0,268.1 L359.7,271.2 L365.8,277.3 L365.1,285.0 L362.8,295.7 L364.3,308.0 L367.4,320.2 L370.4,331.0 L371.2,340.2 L371.2,342.8 L454.7,342.8 L454.7,-8.0 L176.9,-8.0Z" fill="#00dc00"/>
<path d="M197.6,-1.8 L197.6,0.1 L197.6,6.7 L199.5,11.4 L206.1,17.1 L209.9,10.5 L213.6,7.7 L225.9,7.7 L233.4,9.5 L241.7,14.2 L246.2,21.4 L250.8,30.6 L252.4,41.3 L253.1,46.7 L257.7,47.4 L257.7,38.2 L260.0,32.1 L264.6,28.3 L269.2,26.7 L274.6,30.6 L279.2,36.7 L283.0,45.9 L285.3,56.6 L286.9,72.0 L288.4,87.3 L289.9,99.6 L293.0,110.3 L296.8,117.2 L301.4,113.4 L307.6,102.6 L313.7,93.4 L319.8,88.8 L324.4,90.4 L326.7,99.6 L327.5,111.8 L329.0,125.6 L329.0,141.0 L332.1,147.1 L341.3,150.2 L349.0,154.8 L353.6,160.9 L357.4,177.6 L358.9,200.6 L361.2,220.6 L365.8,231.3 L373.5,239.0 L379.6,245.1 L382.7,254.3 L384.2,269.6 L387.3,285.0 L390.4,300.3 L391.9,309.5 L396.5,315.6 L395.0,320.2 L399.6,327.9 L405.7,332.5 L407.2,340.2 L407.2,342.8 L454.7,342.8 L454.7,-8.0 L197.6,-8.0Z" fill="#6edc00"/>
<path d="M266.9,-3.2 L266.9,-0.1 L273.8,7.6 L283.0,13.7 L292.2,18.3 L301.4,24.4 L313.7,29.0 L322.9,35.2 L332.1,41.3 L338.2,47.4 L341.3,56.6 L342.8,68.9 L344.4,78.1 L349.0,87.3 L355.1,95.0 L359.7,102.6 L362.8,111.8 L367.4,122.6 L370.4,133.3 L373.5,145.6 L375.0,157.8 L376.6,162.3 L379.6,177.6 L382.7,188.4 L387.3,200.6 L395.0,211.4 L399.6,223.6 L405.7,231.3 L410.3,242.0 L414.9,249.7 L424.1,254.3 L425.6,262.0 L431.8,266.6 L441.0,262.0 L446.3,258.9 L451.7,258.1 L454.7,258.1 L454.7,-8.0 L266.9,-8.0Z" fill="#dcdc00"/>
<path d="M307.6,-3.2 L307.6,-0.1 L316.8,6.0 L329.0,12.2 L341.3,18.3 L353.6,26.0 L359.7,30.6 L365.8,36.7 L368.9,44.4 L372.0,56.6 L375.0,68.9 L378.1,81.2 L381.2,90.4 L384.2,99.6 L387.3,108.8 L390.4,118.0 L395.0,130.2 L399.6,141.0 L405.7,153.2 L411.8,160.9 L418.0,162.3 L421.0,166.9 L427.2,170.0 L436.4,171.5 L442.5,173.0 L446.3,171.5 L451.7,171.5 L454.7,171.5 L454.7,-8.0 L307.6,-8.0Z" fill="#dc9200"/>
<path d="M365.1,-3.2 L365.1,-0.1 L373.5,4.5 L384.2,9.1 L391.9,12.2 L395.0,18.3 L393.4,26.0 L393.4,38.2 L396.5,53.6 L401.1,65.8 L407.2,76.6 L418.0,87.3 L428.7,96.5 L436.4,99.6 L441.0,95.0 L446.3,91.9 L451.7,91.1 L451.7,13.7 L442.5,7.6 L436.4,-0.1 L436.4,-3.2Z" fill="#dc4900"/>
<path d="M381.9,-3.2 L381.9,-0.1 L390.4,4.5 L402.6,7.6 L410.3,12.2 L414.9,21.4 L421.0,27.5 L427.2,26.0 L429.5,19.8 L427.2,12.2 L421.0,6.0 L414.9,1.4 L413.4,-3.2Z" fill="#dc0000"/>
</svg>
<text x="808.70" y="615.60" font-family='"Liberation Sans", sans-serif' font-size="19.5" textLength="45.93" lengthAdjust="spacingAndGlyphs" fill="#000" stroke="#fff" stroke-width="0.35">z=30</text>
<text x="808.50" y="640.90" font-family='"Liberation Sans", sans-serif' font-size="20.5" textLength="186.07" lengthAdjust="spacingAndGlyphs" fill="#000" stroke="#fff" stroke-width="0.35">Mass fraction of ch4</text>
<rect x="822" y="699.00" width="45.5" height="36.67" fill="#ff0000"/>
<rect x="822" y="735.37" width="45.5" height="36.67" fill="#ff5500"/>
<rect x="822" y="771.74" width="45.5" height="36.67" fill="#ffaa00"/>
<rect x="822" y="808.11" width="45.5" height="36.67" fill="#ffff00"/>
<rect x="822" y="844.48" width="45.5" height="36.67" fill="#80ff00"/>
<rect x="822" y="880.85" width="45.5" height="36.67" fill="#00e600"/>
<rect x="822" y="917.22" width="45.5" height="36.67" fill="#00ff80"/>
<rect x="822" y="953.59" width="45.5" height="36.67" fill="#00ffff"/>
<rect x="822" y="989.96" width="45.5" height="36.67" fill="#0080ff"/>
<rect x="822" y="1026.33" width="45.5" height="36.67" fill="#0000ff"/>
<rect x="822.75" y="699.75" width="44.0" height="362.20000000000005" fill="none" stroke="#000" stroke-width="1.5"/>
<rect x="822" y="697.2" width="45.5" height="1.8" fill="#c4c4c4"/>
<rect x="822" y="1062.7" width="45.5" height="1.2" fill="#b0b0b0"/>
<line x1="867.5" y1="699.00" x2="872.0" y2="699.00" stroke="#000" stroke-width="1.6"/>
<line x1="867.5" y1="735.37" x2="872.0" y2="735.37" stroke="#000" stroke-width="1.6"/>
<line x1="867.5" y1="771.74" x2="872.0" y2="771.74" stroke="#000" stroke-width="1.6"/>
<line x1="867.5" y1="808.11" x2="872.0" y2="808.11" stroke="#000" stroke-width="1.6"/>
<line x1="867.5" y1="844.48" x2="872.0" y2="844.48" stroke="#000" stroke-width="1.6"/>
<line x1="867.5" y1="880.85" x2="872.0" y2="880.85" stroke="#000" stroke-width="1.6"/>
<line x1="867.5" y1="917.22" x2="872.0" y2="917.22" stroke="#000" stroke-width="1.6"/>
<line x1="867.5" y1="953.59" x2="872.0" y2="953.59" stroke="#000" stroke-width="1.6"/>
<line x1="867.5" y1="989.96" x2="872.0" y2="989.96" stroke="#000" stroke-width="1.6"/>
<line x1="867.5" y1="1026.33" x2="872.0" y2="1026.33" stroke="#000" stroke-width="1.6"/>
<line x1="867.5" y1="1062.70" x2="872.0" y2="1062.70" stroke="#000" stroke-width="1.6"/>
<text x="889.00" y="706.00" font-family='"Liberation Sans", sans-serif' font-size="23.3" textLength="90.65" lengthAdjust="spacingAndGlyphs" fill="#000" stroke="#fff" stroke-width="0.35">4.64e-01</text>
<text x="889.00" y="741.40" font-family='"Liberation Sans", sans-serif' font-size="23.3" textLength="88.05" lengthAdjust="spacingAndGlyphs" fill="#000" stroke="#fff" stroke-width="0.35">4.18e-01</text>
<text x="889.00" y="777.40" font-family='"Liberation Sans", sans-serif' font-size="23.3" textLength="90.65" lengthAdjust="spacingAndGlyphs" fill="#000" stroke="#fff" stroke-width="0.35">3.71e-01</text>
<text x="889.00" y="813.30" font-family='"Liberation Sans", sans-serif' font-size="23.3" textLength="88.05" lengthAdjust="spacingAndGlyphs" fill="#000" stroke="#fff" stroke-width="0.35">3.25e-01</text>
<text x="889.00" y="851.00" font-family='"Liberation Sans", sans-serif' font-size="23.3" textLength="92.05" lengthAdjust="spacingAndGlyphs" fill="#000" stroke="#fff" stroke-width="0.35">2.78e-01</text>
<text x="889.00" y="887.60" font-family='"Liberation Sans", sans-serif' font-size="23.3" textLength="90.65" lengthAdjust="spacingAndGlyphs" fill="#000" stroke="#fff" stroke-width="0.35">2.32e-01</text>
<text x="889.00" y="923.50" font-family='"Liberation Sans", sans-serif' font-size="23.3" textLength="88.85" lengthAdjust="spacingAndGlyphs" fill="#000" stroke="#fff" stroke-width="0.35">1.86e-01</text>
<text x="889.00" y="958.40" font-family='"Liberation Sans", sans-serif' font-size="23.3" textLength="88.85" lengthAdjust="spacingAndGlyphs" fill="#000" stroke="#fff" stroke-width="0.35">1.39e-01</text>
<text x="889.00" y="994.30" font-family='"Liberation Sans", sans-serif' font-size="23.3" textLength="94.35" lengthAdjust="spacingAndGlyphs" fill="#000" stroke="#fff" stroke-width="0.35">9.28e-02</text>
<text x="889.00" y="1031.10" font-family='"Liberation Sans", sans-serif' font-size="23.3" textLength="94.35" lengthAdjust="spacingAndGlyphs" fill="#000" stroke="#fff" stroke-width="0.35">4.64e-02</text>
<text x="889.00" y="1067.90" font-family='"Liberation Sans", sans-serif' font-size="23.3" textLength="105.47" lengthAdjust="spacingAndGlyphs" fill="#000" stroke="#fff" stroke-width="0.35">0.00e+00</text>
<text x="1129.70" y="1154.60" font-family='"Liberation Serif", serif' font-size="43.5" textLength="196.08" lengthAdjust="spacingAndGlyphs" fill="#000">(d) z=30 m</text>
<svg x="1021.6" y="700.4" width="471.9999999999999" height="354.80000000000007" viewBox="0 0 471.9999999999999 354.80000000000007" preserveAspectRatio="none" overflow="hidden">
<rect x="0" y="0" width="471.9999999999999" height="354.80000000000007" fill="#0000dc"/>
<path d="M-6.6,33.2 L-0.4,33.2 L42.4,32.9 L47.3,30.8 L53.8,29.5 L62.0,32.4 L71.8,34.9 L84.9,35.4 L97.9,35.7 L107.7,35.1 L114.6,35.0 L117.6,41.2 L123.8,47.4 L133.0,55.1 L142.3,64.3 L150.0,73.5 L157.7,82.8 L163.9,92.0 L170.0,101.3 L176.2,113.6 L182.3,122.8 L186.9,133.6 L190.0,142.9 L191.6,153.6 L193.1,162.9 L194.7,169.0 L203.9,169.0 L213.1,167.5 L219.3,173.6 L222.4,179.5 L236.7,215.4 L241.6,231.8 L246.5,248.1 L251.4,256.3 L256.3,269.3 L261.2,285.7 L263.6,298.7 L262.8,313.4 L262.0,329.8 L260.4,346.1 L259.5,354.3 L259.5,360.8 L259.5,362.8 L480.0,362.8 L480.0,-8.0 L-8.0,-8.0 L-8.0,33.2Z" fill="#006edc"/>
<path d="M88.1,-5.1 L88.1,-0.2 L84.9,4.7 L80.0,11.2 L80.0,24.3 L83.2,30.8 L91.4,34.1 L104.5,34.4 L108.6,28.4 L112.6,25.6 L117.5,25.1 L119.2,28.1 L122.3,33.5 L126.9,38.1 L136.1,42.7 L145.4,48.9 L153.1,55.1 L159.2,64.3 L165.4,73.5 L171.6,84.3 L177.7,95.1 L183.9,107.4 L190.0,118.2 L194.7,129.0 L199.3,139.8 L202.4,145.9 L208.5,144.4 L216.2,142.1 L222.4,142.9 L225.5,147.5 L230.1,153.6 L234.7,159.8 L238.4,162.9 L243.2,169.6 L253.0,190.9 L259.5,207.3 L266.1,223.6 L271.0,228.5 L275.9,248.1 L282.4,264.4 L285.7,280.8 L287.3,297.1 L288.1,313.4 L285.7,329.8 L282.4,346.1 L281.6,354.3 L281.6,360.8 L281.6,362.8 L480.0,362.8 L480.0,-8.0 L88.1,-8.0Z" fill="#00dcdc"/>
<path d="M128.4,-3.5 L128.4,0.4 L125.3,8.8 L128.4,18.1 L133.0,30.4 L142.3,36.6 L151.5,39.6 L160.8,45.8 L166.9,52.0 L173.1,61.2 L179.2,70.5 L185.4,82.8 L191.6,95.1 L197.7,107.4 L203.9,119.7 L210.1,122.8 L219.3,119.7 L227.0,115.1 L231.6,116.7 L238.4,122.8 L246.5,133.7 L253.0,145.1 L257.9,158.2 L261.2,169.6 L266.1,174.6 L271.0,190.9 L279.1,207.3 L287.3,217.1 L295.5,231.8 L302.0,248.1 L305.3,264.4 L306.9,280.8 L306.9,297.1 L306.9,313.4 L305.3,329.8 L302.8,346.1 L302.0,354.3 L302.0,360.8 L302.0,362.8 L480.0,362.8 L480.0,-8.0 L128.4,-8.0Z" fill="#00dc6e"/>
<path d="M173.1,-3.5 L173.1,0.4 L170.0,11.9 L177.7,19.6 L186.9,25.8 L191.6,33.5 L194.7,41.2 L199.3,47.4 L208.5,52.0 L216.2,53.5 L222.4,58.1 L228.5,64.3 L234.7,70.5 L238.4,73.5 L246.5,79.8 L254.6,89.6 L262.8,99.4 L269.3,110.8 L272.6,122.3 L277.5,135.3 L284.0,146.8 L290.6,156.6 L298.7,168.0 L305.3,179.6 L315.1,190.9 L321.6,207.3 L326.5,223.6 L329.8,239.9 L333.0,256.3 L334.7,272.6 L335.5,288.9 L333.9,305.3 L331.4,321.6 L329.8,337.9 L328.1,354.3 L328.1,360.8 L328.1,362.8 L480.0,362.8 L480.0,-8.0 L173.1,-8.0Z" fill="#00dc00"/>
<path d="M194.7,-3.5 L194.7,0.4 L200.8,7.3 L210.1,11.9 L216.2,16.5 L220.8,21.2 L225.5,25.8 L231.6,33.5 L236.2,39.6 L238.4,41.2 L243.2,45.5 L254.6,52.0 L266.1,56.9 L275.9,61.8 L285.7,70.0 L295.5,81.4 L303.6,92.9 L311.8,105.9 L316.7,115.7 L321.6,127.2 L324.9,138.6 L329.8,151.7 L334.7,164.7 L341.2,174.5 L349.4,190.9 L354.3,207.3 L359.2,223.6 L365.7,236.7 L372.2,248.1 L375.5,261.2 L376.3,280.8 L375.5,297.1 L373.9,313.4 L372.2,329.8 L370.6,346.1 L369.8,354.3 L369.8,360.8 L369.8,362.8 L480.0,362.8 L480.0,-8.0 L194.7,-8.0Z" fill="#6edc00"/>
<path d="M236.7,-5.1 L236.7,0.6 L241.6,12.8 L253.0,22.6 L266.1,30.8 L279.1,39.0 L292.2,45.5 L303.6,52.0 L315.1,60.2 L323.2,68.4 L331.4,78.2 L337.9,89.6 L344.5,99.4 L351.0,107.6 L357.5,115.7 L364.1,127.2 L369.0,138.6 L373.9,150.0 L380.4,163.1 L396.7,184.4 L403.3,199.1 L409.8,215.4 L414.7,228.5 L419.6,239.9 L426.1,253.0 L432.7,266.1 L440.8,277.5 L450.6,285.7 L462.1,287.3 L471.9,287.3 L478.4,287.3 L480.0,287.3 L480.0,-8.0 L236.7,-8.0Z" fill="#dcdc00"/>
<path d="M271.0,-5.1 L271.0,0.6 L274.2,7.9 L280.8,16.1 L290.6,22.6 L303.6,27.5 L318.3,32.4 L331.4,37.3 L344.5,42.2 L357.5,47.1 L369.0,53.7 L377.1,60.2 L383.7,68.4 L390.2,76.5 L395.1,84.7 L400.0,94.5 L404.9,104.3 L411.4,115.7 L418.0,125.5 L422.9,133.7 L429.4,140.2 L439.2,143.5 L450.6,146.8 L462.1,149.2 L471.9,150.9 L478.4,150.9 L480.0,150.9 L480.0,-8.0 L271.0,-8.0Z" fill="#dc9200"/>
<path d="M337.9,-5.1 L337.9,0.6 L344.5,4.7 L354.3,9.6 L364.1,12.8 L377.1,15.3 L390.2,16.1 L403.3,16.1 L413.1,14.5 L422.9,11.2 L429.4,7.9 L435.9,5.5 L445.7,4.7 L462.1,3.9 L478.4,3.0 L480.0,3.0 L480.0,-8.0 L337.9,-8.0Z" fill="#dc4900"/>
<path d="M386.9,-5.1 L386.9,0.6 L393.5,4.7 L403.3,6.3 L413.1,5.5 L422.9,3.0 L426.1,0.6 L426.1,-5.1Z" fill="#dc0000"/>
</svg>
</svg>
</body></html>
